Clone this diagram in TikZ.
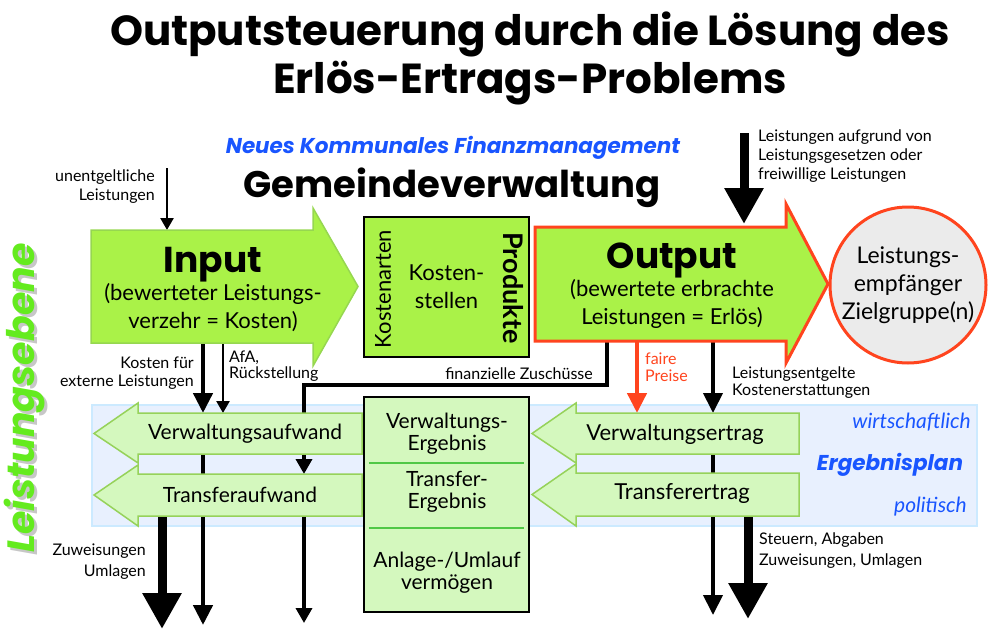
\documentclass[tikz,border=0pt]{standalone}
\usepackage{fontspec}
\setmainfont{Lato}
\newfontfamily\heavyfont{Poppins}
\usetikzlibrary{arrows.meta,positioning,calc,backgrounds}
\definecolor{hgreen}{RGB}{170,242,72}
\definecolor{hgreenedge}{RGB}{150,215,80}
\definecolor{orot}{RGB}{255,68,30}
\definecolor{bgreen}{RGB}{212,248,190}
\definecolor{bgreenedge}{RGB}{150,210,90}
\definecolor{bandfill}{RGB}{232,240,254}
\definecolor{bandedge}{RGB}{204,234,255}
\definecolor{nkfblue}{RGB}{25,85,255}
\definecolor{trenngreen}{RGB}{80,200,70}
\definecolor{ebgreen}{RGB}{100,235,30}
\definecolor{kreisgrau}{RGB}{235,235,235}
\tikzset{
  titel/.style={font=\heavyfont\bfseries\fontsize{42}{48}\selectfont, inner sep=0pt, anchor=base},
  nkf/.style={font=\heavyfont\bfseries\itshape\fontsize{21.5}{24}\selectfont, text=nkfblue, inner sep=0pt},
  gv/.style={font=\heavyfont\bfseries\fontsize{37}{40}\selectfont, inner sep=0pt},
  ebene/.style={rotate=90, font=\heavyfont\bfseries\itshape\fontsize{38}{40}\selectfont, inner sep=0pt},
  koerper/.style={inner sep=0pt, outer sep=0pt},
  txt/.style={font=\fontsize{22}{28}\selectfont, align=center, inner sep=0pt},
  lbl/.style={font=\fontsize{16}{18}\selectfont, inner sep=0pt},
  plan/.style={text=nkfblue, inner sep=0pt},
  inarr/.style={fill=hgreen, draw=hgreenedge, line width=1.5pt, line join=miter},
  outarr/.style={fill=hgreen, draw=orot, line width=3pt, line join=miter},
  blass/.style={fill=bgreen, draw=bgreenedge, line width=1.5pt, line join=miter},
  kasten/.style={draw, fill=#1, line width=2.5pt, inner sep=0pt},
  trenn/.style={draw=trenngreen, line width=2.5pt},
  duenn/.style={line width=2.5pt, -{Triangle[length=12pt,width=13pt]}},
  mittel/.style={line width=4.5pt, -{Triangle[length=20pt,width=19pt]}},
  dick/.style={line width=9pt, -{Triangle[length=36pt,width=37pt]}},
}
\begin{document}
\begin{tikzpicture}[x=1pt,y=-1pt]
  \useasboundingbox (0,0) rectangle (1007,640);

  % Ueberschriften
  \node[titel] (titel) at (530,45) {Outputsteuerung durch die Lösung des};
  \node[titel] (titel2) at (530,93) {Erlös-Ertrags-Problems};
  \node[nkf] (nkf) at (453,148) {Neues Kommunales Finanzmanagement};
  \node[gv] (gv) at (452,188) {Gemeindeverwaltung};
  \node[ebene, text=black!22] (ebschatten) at (28,401) {Leistungsebene};
  \node[ebene, text=ebgreen] (ebene) at (25,398) {Leistungsebene};

  % Koerper der Pfeile
  \node[koerper, minimum width=222pt, minimum height=113pt] (input) at (202,286.5) {};
  \node[koerper, minimum width=251pt, minimum height=114pt] (output) at (660.5,284) {};
  \node[koerper, minimum width=224pt, minimum height=41pt] (vaufw) at (250,433.5) {};
  \node[koerper, minimum width=224pt, minimum height=42pt] (taufw) at (250,495) {};
  \node[koerper, minimum width=223pt, minimum height=41pt] (vertr) at (687.5,433.5) {};
  \node[koerper, minimum width=223pt, minimum height=43pt] (tertr) at (687.5,494.5) {};

  \node[txt] (intxt) at (213,289) {{\heavyfont\bfseries\fontsize{36}{34}\selectfont Input}\\(bewerteter Leistungs-\\verzehr = Kosten)};
  \node[txt] (outtxt) at (672,286) {{\heavyfont\bfseries\fontsize{36}{34}\selectfont Output}\\(bewertete erbrachte\\Leistungen = Erlös)};

  \node[kasten=hgreen, minimum width=165pt, minimum height=140pt, txt] (kst) at (446.5,287) {Kosten-\\stellen};
  \node[txt, rotate=90] (karten) at (383,289) {Kostenarten};
  \node[txt, rotate=-90, font=\bfseries\fontsize{27}{28}\selectfont] (prod) at (513,288) {Produkte};

  \node[circle, draw=orot, fill=kreisgrau, line width=3pt, minimum size=156pt, inner sep=0pt, txt,
        font=\fontsize{23}{28}\selectfont] (empf) at (908,285) {Leistungs-\\empfänger\\Zielgruppe(n)};

  \node[txt, font=\fontsize{21}{24}\selectfont] (vatxt) at (245,434) {Verwaltungsaufwand};
  \node[txt, font=\fontsize{21}{24}\selectfont] (tatxt) at (240,495) {Transferaufwand};
  \node[txt, font=\fontsize{22}{24}\selectfont] (vetxt) at (675,434) {Verwaltungsertrag};
  \node[txt, font=\fontsize{22}{24}\selectfont] (tetxt) at (682,494) {Transferertrag};

  \node[kasten=bgreen, minimum width=165pt, minimum height=215pt] (erg) at (446.5,504.5) {};
  \node[txt, font=\fontsize{21}{22}\selectfont] (verg) at (447,434) {Verwaltungs-\\Ergebnis};
  \node[txt, font=\fontsize{21}{22}\selectfont] (terg) at (447,492) {Transfer-\\Ergebnis};
  \node[txt, font=\fontsize{21}{22}\selectfont] (aerg) at (447,572.5) {Anlage-/Umlauf\\vermögen};
  \draw[trenn] ($(erg.north west)+(6,67)$) -- ($(erg.north east)+(-6,67)$);
  \draw[trenn] ($(erg.north west)+(6,132)$) -- ($(erg.north east)+(-6,132)$);

  \node[plan, font=\itshape\fontsize{21}{22}\selectfont, anchor=east] (wirt) at (971,422) {wirtschaftlich};
  \node[plan, font=\heavyfont\bfseries\itshape\fontsize{21.5}{24}\selectfont] (eplan) at (890,465) {Ergebnisplan};
  \node[plan, font=\itshape\fontsize{21}{22}\selectfont, anchor=east] (polit) at (967,507) {politisch};

  % Beschriftungen
  \node[lbl, align=right, anchor=east, font=\fontsize{16}{19}\selectfont] (unentg) at (155,187) {unentgeltliche\\Leistungen};
  \node[lbl, align=left, anchor=west, font=\fontsize{16}{19}\selectfont] (gesetz) at (758,156) {Leistungen aufgrund von\\Leistungsgesetzen oder\\freiwillige Leistungen};
  \node[lbl, align=right, anchor=east] (extern) at (194,373) {Kosten für\\externe Leistungen};
  \node[lbl, align=left, anchor=west, font=\fontsize{16}{16}\selectfont] (afa) at (229,366) {AfA,\\Rückstellung};
  \node[lbl, anchor=east] (zusch) at (593,374) {finanzielle Zuschüsse};
  \node[lbl, align=left, anchor=west, text=orot, font=\fontsize{16}{17}\selectfont] (preise) at (645,367.5) {faire\\Preise};
  \node[lbl, align=left, anchor=west, font=\fontsize{16}{17}\selectfont] (entgelt) at (732,382.5) {Leistungsentgelte\\Kostenerstattungen};
  \node[lbl, align=right, anchor=east, font=\fontsize{16}{21}\selectfont] (zuweis) at (146,561.5) {Zuweisungen\\Umlagen};
  \node[lbl, align=left, anchor=west, font=\fontsize{16}{21}\selectfont] (steuern) at (759,550.5) {Steuern, Abgaben\\Zuweisungen, Umlagen};

  % Spalten der Stroeme
  \coordinate (qU) at (167,168);
  \coordinate (qL) at (744,133);
  \coordinate (cUml) at (162,0);
  \coordinate (cExt) at (203,0);
  \coordinate (cAfa) at (223,0);
  \coordinate (cZus) at (304,0);
  \coordinate (knick) at (304,385);
  \coordinate (cZf) at (607,0);
  \coordinate (cPreis) at (637,0);
  \coordinate (cEntg) at (713,0);
  \coordinate (cSteu) at (748,0);

  \begin{scope}[on background layer]
    \node[fill=bandfill, draw=bandedge, line width=2pt, minimum width=885pt, minimum height=121pt] (band) at (534.5,465.5) {};

    \draw[duenn] (qU) -- (qU |- input.north);
    \draw[dick, shorten >=3pt] (qL) -- (qL |- output.north);
    \draw[mittel] (input.south -| cExt) -- (vaufw.north -| cExt);
    \draw[duenn] (input.south -| cAfa) -- (vaufw.north -| cAfa);
    \draw[mittel] (vaufw.south -| cExt) -- ++(0,171);
    \draw[dick] (taufw.south -| cUml) -- ++(0,113);
    \draw[line width=3.5pt, -{Triangle[length=15pt,width=16pt]}, line join=miter]
      (output.south -| cZf) |- (knick) -- (taufw.north -| cZus);
    \draw[line width=3.5pt, -{Triangle[length=15pt,width=16pt]}] (taufw.south -| cZus) -- ++(0,107);
    \draw[mittel, orot] (output.south -| cPreis) -- (vertr.north -| cPreis);
    \draw[mittel, line width=4pt] (output.south -| cEntg) -- (vertr.north -| cEntg);
    \draw[mittel, line width=4pt] (vertr.south -| cEntg) -- ++(0,161);
    \draw[dick] (tertr.south -| cSteu) -- ++(0,103);

    \draw[inarr] (input.north west) -- (input.north east) -- ++(0,-22) -- ($(input.east)+(45,0)$)
      -- ($(input.south east)+(0,23)$) -- (input.south east) -- (input.south west) -- cycle;
    \draw[outarr] (output.north west) -- (output.north east) -- ++(0,-23) -- ($(output.east)+(42,0)$)
      -- ($(output.south east)+(0,22)$) -- (output.south east) -- (output.south west) -- cycle;
    \draw[blass] (vaufw.north east) -- (vaufw.north west) -- ++(0,-10) -- ($(vaufw.west)+(-44,0)$)
      -- ($(vaufw.south west)+(0,9)$) -- (vaufw.south west) -- (vaufw.south east) -- cycle;
    \draw[blass] (taufw.north east) -- (taufw.north west) -- ++(0,-9) -- ($(taufw.west)+(-44,0)$)
      -- ($(taufw.south west)+(0,10)$) -- (taufw.south west) -- (taufw.south east) -- cycle;
    \draw[blass] (vertr.north east) -- (vertr.north west) -- ++(0,-10) -- ($(vertr.west)+(-44,0)$)
      -- ($(vertr.south west)+(0,9)$) -- (vertr.south west) -- (vertr.south east) -- cycle;
    \draw[blass] (tertr.north east) -- (tertr.north west) -- ++(0,-9) -- ($(tertr.west)+(-44,0)$)
      -- ($(tertr.south west)+(0,10)$) -- (tertr.south west) -- (tertr.south east) -- cycle;
  \end{scope}
\end{tikzpicture}
\end{document}
